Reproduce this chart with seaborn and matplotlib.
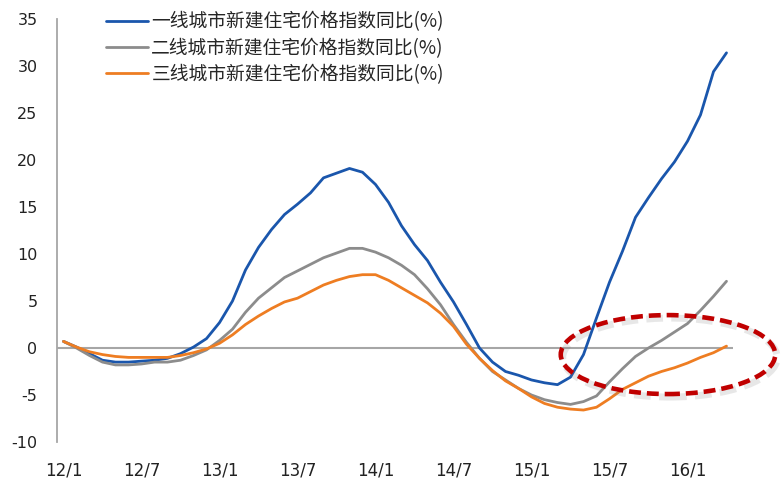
import numpy as np
import pandas as pd
import matplotlib
matplotlib.use("Agg")
import matplotlib.pyplot as plt
import matplotlib.transforms as mtransforms
from matplotlib.patches import Ellipse
from matplotlib.font_manager import FontProperties
import seaborn as sns

# Monthly categories from 2012/1 to 2016/4
months = [f"{y}/{m}" for y in range(12, 17) for m in range(1, 13)][:52]
tick_labels = ["12/1", "12/7", "13/1", "13/7", "14/1", "14/7", "15/1", "15/7", "16/1"]

series_names = [
    "一线城市新建住宅价格指数同比(%)",
    "二线城市新建住宅价格指数同比(%)",
    "三线城市新建住宅价格指数同比(%)",
]

tier1 = [0.7, 0.1, -0.6, -1.3, -1.5, -1.5, -1.4, -1.3, -1.1, -0.6, 0.1, 1.0,
         2.7, 5.0, 8.3, 10.7, 12.6, 14.2, 15.3, 16.5, 18.1, 18.6, 19.1, 18.7,
         17.4, 15.5, 13.0, 11.0, 9.3, 7.0, 4.9, 2.5, 0.0, -1.5, -2.5, -2.9,
         -3.4, -3.7, -3.9, -3.1, -0.7, 3.2, 7.0, 10.3, 13.9, 16.0, 18.0, 19.8,
         22.0, 24.8, 29.4, 31.4]
tier2 = [0.7, 0.0, -0.8, -1.5, -1.8, -1.8, -1.7, -1.5, -1.5, -1.3, -0.8, -0.2,
         0.8, 2.0, 3.8, 5.3, 6.4, 7.5, 8.2, 8.9, 9.6, 10.1, 10.6, 10.6,
         10.2, 9.6, 8.8, 7.8, 6.3, 4.6, 2.5, 0.6, -1.1, -2.5, -3.4, -4.3,
         -5.0, -5.5, -5.8, -6.0, -5.7, -5.1, -3.6, -2.2, -0.9, 0.0, 0.8, 1.7,
         2.6, 4.0, 5.5, 7.1]
tier3 = [0.7, 0.1, -0.4, -0.7, -0.9, -1.0, -1.0, -1.0, -1.0, -0.8, -0.5, -0.1,
         0.5, 1.4, 2.5, 3.4, 4.2, 4.9, 5.3, 6.0, 6.7, 7.2, 7.6, 7.8,
         7.8, 7.2, 6.4, 5.6, 4.8, 3.7, 2.3, 0.4, -1.1, -2.4, -3.5, -4.3,
         -5.2, -5.9, -6.3, -6.5, -6.6, -6.3, -5.4, -4.4, -3.7, -3.0, -2.5, -2.1,
         -1.6, -1.0, -0.5, 0.2]

colors = ["#1A56AC", "#8C8C8C", "#EE7D22"]

pos = np.arange(len(months))
df = pd.concat([
    pd.DataFrame({"pos": pos, "month": months, "value": vals, "series": name})
    for name, vals in zip(series_names, [tier1, tier2, tier3])
])

sns.set_style("white")
plt.rcParams["font.family"] = ["Noto Sans CJK SC", "DejaVu Sans"]
plt.rcParams["axes.unicode_minus"] = False

fig = plt.figure(figsize=(7.82, 4.82), dpi=100)
ax = fig.add_axes([57 / 782, 1 - 442 / 482, (733 - 57) / 782, (442 - 19) / 482])

ax.axhline(0, color="#A6A6A6", lw=1.5, zorder=1)
sns.lineplot(data=df, x="pos", y="value", hue="series", hue_order=series_names,
             palette=dict(zip(series_names, colors)), linewidth=2.0,
             sort=False, ax=ax, zorder=3)

ax.set_xlim(-0.5, len(months) - 0.5)
ax.set_ylim(-10, 35)
ax.set_yticks(range(-10, 36, 5))
ax.set_xticks([months.index(t) for t in tick_labels])
ax.set_xticklabels(tick_labels, family="DejaVu Sans")
ax.set_xlabel("")
ax.set_ylabel("")
ax.tick_params(axis="y", length=0, pad=14, labelsize=11.5, labelcolor="#222222")
ax.tick_params(axis="x", length=0, pad=14, labelsize=12, labelcolor="#222222")
for lab in ax.get_yticklabels():
    lab.set_family("DejaVu Sans")

for side in ["top", "right", "bottom"]:
    ax.spines[side].set_visible(False)
ax.spines["left"].set_color("#A6A6A6")
ax.spines["left"].set_linewidth(1.3)

# Legend at top-left with the three series
old = ax.get_legend()
handles = old.legend_handles
labels = [t.get_text() for t in old.texts]
old.remove()
ax.legend(handles, labels, loc="upper left",
          bbox_to_anchor=(97 / 782, 1 - 2 / 482), bbox_transform=fig.transFigure,
          frameon=False, borderpad=0, handlelength=2.2, handletextpad=0.2,
          labelspacing=0.28, labelcolor="#262626",
          prop=FontProperties(family=["Noto Sans CJK SC", "DejaVu Sans"], size=13.5))

# Highlight of the recent rebound: dashed ellipse with a soft shadow
center, width, height = (46.5, -0.7), 16.5, 8.4
shadow_tr = mtransforms.offset_copy(ax.transData, fig=fig, x=2, y=-3, units="dots")
ax.add_patch(Ellipse(center, width, height, fill=False, edgecolor="#7F7F7F",
                     alpha=0.18, lw=5, linestyle=(0, (2.4, 1.2)),
                     transform=shadow_tr, clip_on=False, zorder=4))
ax.add_patch(Ellipse(center, width, height, fill=False, edgecolor="#C00000",
                     lw=3.3, linestyle=(0, (2.6, 1.3)), clip_on=False, zorder=5))

fig.savefig("out.png", dpi=100)
